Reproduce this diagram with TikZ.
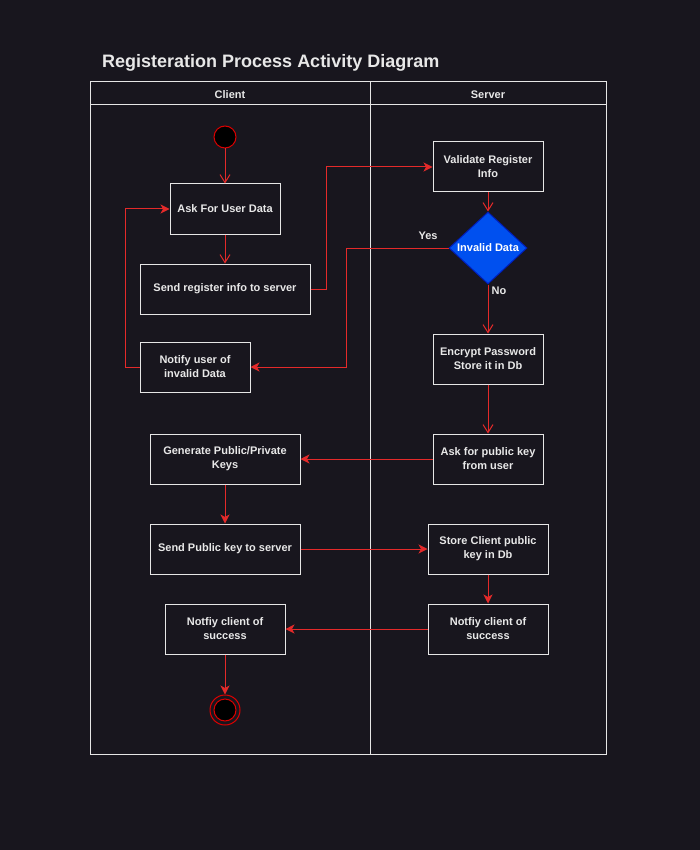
\documentclass[tikz,border=0pt]{standalone}
\usepackage{fontspec}
\setmainfont{Liberation Sans}
\usetikzlibrary{arrows.meta,shapes.geometric}
\definecolor{bgc}{RGB}{24,22,30}
\definecolor{txtc}{RGB}{232,232,232}
\definecolor{boxc}{RGB}{230,230,230}
\definecolor{flowc}{RGB}{228,42,42}
\definecolor{decfill}{RGB}{0,80,239}
\definecolor{decline}{RGB}{0,29,188}
\definecolor{dotred}{RGB}{220,0,0}
\tikzset{
  act/.style={draw=boxc, fill=bgc, line width=1pt, minimum height=50pt,
    align=center, inner sep=0pt, text=txtc,
    font=\bfseries\fontsize{11}{14}\selectfont},
  decision/.style={diamond, draw=decline, fill=decfill, line width=1pt,
    minimum width=78pt, minimum height=72pt, aspect=1.08, inner sep=0pt,
    text=white, font=\bfseries\fontsize{11}{14}\selectfont},
  lane/.style={draw=boxc, line width=1pt},
  lanehead/.style={text=txtc, font=\bfseries\fontsize{11}{14}\selectfont},
  flowline/.style={draw=flowc, line width=1pt},
  openarrow/.style={flowline, -{Straight Barb[length=8pt,width=10pt,line width=1pt]}},
  solidarrow/.style={flowline, -{Stealth[length=9pt,width=9pt,inset=2.5pt]}},
  guard/.style={text=txtc, font=\bfseries\fontsize{11}{14}\selectfont, inner sep=0pt},
}
\begin{document}
\begin{tikzpicture}[x=1pt,y=-1pt]
  % canvas
  \fill[bgc] (0,0) rectangle (700,850);
  \useasboundingbox (0,0) rectangle (700,850);

  % title
  \node[anchor=west, text=txtc, font=\bfseries\fontsize{18}{22}\selectfont, inner sep=0pt]
    (title) at (102,63) {Registeration Process Activity Diagram};

  % swimlanes
  \draw[lane] (90,82) rectangle (606,754);
  \draw[lane] (90,105) -- (606,105);
  \draw[lane] (370,82) -- (370,754);
  \node[lanehead] (client) at (230,94.5) {Client};
  \node[lanehead] (server) at (488,94.5) {Server};

  % client lane
  \node[circle, draw=dotred, fill=black, line width=1pt, minimum size=22pt, inner sep=0pt]
    (start) at (225,137) {};
  \node[act, minimum width=110pt] (ask) at (225,209) {Ask For User Data};
  \node[act, minimum width=170pt] (sendreg) at (225,289) {Send register info to server};
  \node[act, minimum width=110pt] (notifyinv) at (195,367) {Notify user of\\invalid Data};
  \node[act, minimum width=150pt] (genkeys) at (225,459) {Generate Public/Private\\Keys};
  \node[act, minimum width=150pt] (sendkey) at (225,549) {Send Public key to server};
  \node[act, minimum width=120pt] (okclient) at (225,629) {Notfiy client of\\success};
  \node[circle, draw=dotred, line width=1pt, minimum size=30pt, inner sep=0pt]
    (stop) at (225,710) {};
  \node[circle, draw=dotred, fill=black, line width=1pt, minimum size=22pt, inner sep=0pt]
    (stopdot) at (225,710) {};

  % server lane
  \node[act, minimum width=110pt] (validate) at (488,167) {Validate Register\\Info};
  \node[decision] (invalid) at (488,248) {Invalid Data};
  \node[act, minimum width=110pt] (encrypt) at (488,359) {Encrypt Password\\Store it in Db};
  \node[act, minimum width=110pt] (askkey) at (488,459) {Ask for public key\\from user};
  \node[act, minimum width=120pt] (storekey) at (488,549) {Store Client public\\key in Db};
  \node[act, minimum width=120pt] (okserver) at (488,629) {Notfiy client of\\success};

  % flows
  \draw[openarrow] (start) -- (ask);
  \draw[openarrow] (ask) -- (sendreg);
  \draw[solidarrow] (sendreg.east) -| (326,167) -- (validate.west);
  \draw[openarrow] (validate) -- (invalid);
  \draw[solidarrow] (invalid.west) -| (346,367) -- (notifyinv.east);
  \node[guard] (yes) at (428,236) {Yes};
  \draw[openarrow] (invalid.south) -- (encrypt.north);
  \node[guard] (no) at (499,291) {No};
  \draw[solidarrow] (notifyinv.west) -| (125,209) -- (ask.west);
  \draw[openarrow] (encrypt) -- (askkey);
  \draw[solidarrow] (askkey.west) -- (genkeys.east);
  \draw[solidarrow] (genkeys) -- (sendkey);
  \draw[solidarrow] (sendkey.east) -- (storekey.west);
  \draw[solidarrow] (storekey) -- (okserver);
  \draw[solidarrow] (okserver.west) -- (okclient.east);
  \draw[solidarrow] (okclient) -- (stop);
\end{tikzpicture}
\end{document}
